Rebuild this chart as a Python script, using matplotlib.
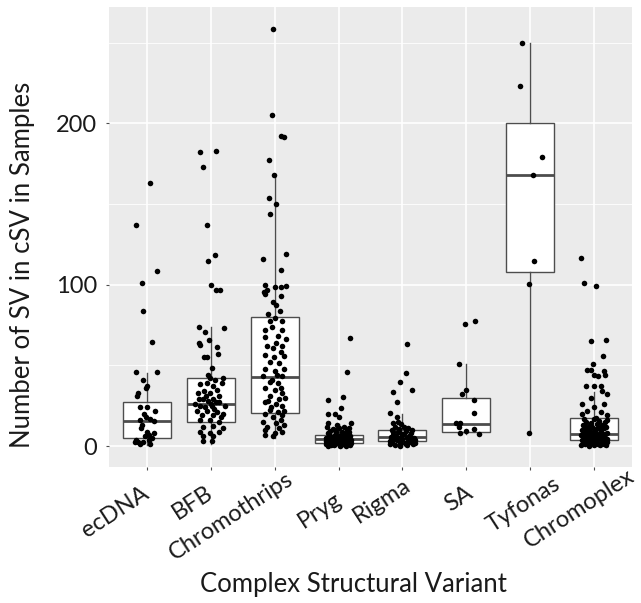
"""
Boxplot with jittered points: number of SVs per complex structural variant type.
"""

import matplotlib
matplotlib.use("Agg")
import matplotlib.pyplot as plt
import numpy as np

categories = ["ecDNA", "BFB", "Chromothrips", "Pryg", "Rigma", "SA", "Tyfonas", "Chromoplex"]

# box statistics
box_q1 = [5, 15, 20.6, 2, 3.3, 8.7, 108, 4]
box_med = [15.5, 26, 43, 4.3, 5.8, 13.6, 168, 7.4]
box_q3 = [27, 42, 80, 6.8, 10, 30, 200, 17.5]
whisker_lo = [0.5, 1, 5, 0, 0, 7.4, 8, 0]
whisker_hi = [45, 74, 167, 13.5, 20, 50.6, 250, 33.6]

# jittered points: (horizontal jitter, value)
ecdna_pts = [(-0.17, 136.8), (0.05, 162.8), (0.15, 108.8), (-0.09, 101), (-0.07, 83.6),
             (0.07, 64.8), (-0.18, 46.2), (0.16, 45.6), (-0.06, 40.9), (0.0, 37.2),
             (-0.02, 35.8), (-0.15, 32.6), (-0.16, 31.3), (-0.12, 24), (0.0, 24.3),
             (-0.05, 20), (-0.02, 18), (0.05, 17), (-0.12, 16), (0.1, 15.5),
             (-0.1, 11), (0.0, 9), (0.02, 7), (-0.04, 6), (-0.15, 2.7), (-0.12, 1.3),
             (0.02, 3.6), (0.07, 5), (-0.06, 2.5), (-0.19, 2.5), (0.1, 8), (-0.08, 13),
             (0.12, 22), (-0.17, 4), (0.04, 1)]

bfb_pts = [(-0.17, 182), (0.08, 182.8), (-0.12, 173.2), (-0.06, 136.8), (0.06, 118.5),
           (-0.04, 114.7), (0.0, 100), (0.08, 96.8), (0.14, 96.6),
           (-0.19, 73.9), (-0.10, 70.4), (0.20, 72.9), (-0.03, 65.6), (-0.19, 63.6),
           (-0.17, 62.5), (0.09, 61.1), (0.11, 57), (-0.11, 54.9), (-0.06, 54.9), (0.02, 48.5),
           (-0.02, 42), (0.06, 41), (0.19, 42), (-0.07, 39), (-0.17, 38.5), (0.03, 37),
           (-0.11, 34), (-0.01, 33), (0.13, 31), (-0.19, 29), (-0.12, 29), (-0.05, 28),
           (0.03, 29), (0.13, 27), (-0.25, 26), (-0.17, 25), (0.01, 25), (0.22, 25),
           (-0.07, 22), (0.09, 21), (-0.22, 22), (-0.14, 19), (0.03, 19), (0.19, 20),
           (-0.17, 16), (-0.02, 16), (0.13, 15), (-0.13, 12), (0.03, 12.5), (0.19, 11),
           (-0.17, 9), (-0.02, 8), (0.13, 9), (-0.13, 6), (0.03, 6), (-0.13, 3), (0.01, 3),
           (0.1, 35), (-0.08, 31), (0.05, 23), (-0.2, 33), (0.15, 18), (-0.05, 44),
           (0.0, 26), (0.08, 27.5), (-0.1, 24), (0.17, 39)]

chromothrips_pts = [(-0.03, 258.4), (-0.04, 205), (0.09, 192.1), (0.14, 191.5), (-0.09, 177),
                    (-0.02, 168), (-0.09, 154), (0.02, 150), (-0.08, 144), (-0.19, 115.8),
                    (0.17, 119.3), (0.10, 109.4), (0.01, 98.3), (0.10, 98.3), (0.17, 98.9),
                    (-0.15, 94.5), (-0.17, 95.3), (0.10, 92.9), (-0.15, 100), (-0.12, 96.6),
                    (-0.03, 89.4), (0.02, 87.3), (-0.11, 81.7), (0.0, 79.6), (-0.08, 77.5),
                    (0.12, 77.5), (-0.16, 71.8), (0.12, 71.8), (-0.15, 67.6), (0.18, 66.6),
                    (0.02, 63.6), (-0.03, 60.5), (0.12, 62), (0.10, 58), (-0.16, 56.3),
                    (0.15, 56), (-0.08, 52), (0.07, 51.2), (-0.15, 47.7), (0.0, 46.5),
                    (-0.19, 43.6), (0.12, 43.3), (-0.08, 40), (0.05, 39), (-0.16, 36),
                    (0.0, 35), (0.12, 33), (-0.08, 31), (0.07, 29), (-0.16, 27), (0.02, 26),
                    (0.12, 25), (-0.08, 22.6), (0.05, 21), (-0.16, 20), (-0.03, 18),
                    (0.12, 19), (-0.19, 15), (0.02, 14), (0.15, 13), (-0.15, 10), (0.0, 8),
                    (0.12, 9), (-0.16, 7), (-0.03, 6.5), (0.08, 84), (-0.05, 74), (0.15, 48),
                    (-0.12, 62), (0.05, 68), (-0.02, 55), (0.09, 36), (-0.1, 28), (0.16, 30),
                    (-0.06, 24), (0.1, 16), (-0.12, 12), (0.06, 11), (0.14, 22), (-0.04, 41),
                    (0.03, 44)]

pryg_pts = [(0.18, 66.7), (0.13, 46), (0.07, 30.5), (-0.17, 28.5), (0.04, 23.7), (-0.16, 19.6),
            (-0.06, 19.6), (0.0, 18.1), (0.19, 14), (-0.16, 14),
            (-0.19, 1), (-0.15, 2), (-0.12, 0.5), (-0.08, 3), (-0.05, 1.5), (0.0, 2.5),
            (0.04, 0.8), (0.08, 3.5), (0.12, 1.2), (0.16, 2.2), (0.19, 4),
            (-0.18, 5), (-0.14, 6), (-0.1, 4.5), (-0.06, 7), (-0.02, 5.5), (0.02, 6.5),
            (0.06, 4.2), (0.1, 7.5), (0.14, 5.2), (0.18, 6.2),
            (-0.17, 8), (-0.13, 9.5), (-0.09, 10.5), (-0.04, 8.5), (0.01, 11), (0.05, 9),
            (0.09, 12), (0.13, 10), (0.17, 8.8),
            (-0.2, 3.2), (-0.16, 0.2), (-0.11, 1.8), (-0.07, 0.4), (-0.03, 2.8), (0.03, 1),
            (0.07, 2), (0.11, 0.3), (0.15, 3), (0.2, 1.6),
            (-0.19, 4.8), (-0.12, 3.8), (-0.01, 4), (0.05, 3.2), (0.13, 4.6), (-0.08, 5.8),
            (0.0, 6), (0.09, 5.6), (0.17, 7), (-0.15, 7.2),
            (-0.05, 9.8), (0.07, 7.8), (0.16, 11), (-0.18, 11.5), (-0.02, 13), (0.1, 1.4),
            (-0.1, 2.4), (0.02, 0.1), (0.18, 0.8), (-0.13, 1.1)]

rigma_pts = [(0.07, 63), (0.05, 45), (-0.04, 39.8), (-0.14, 33.2), (0.15, 34.7), (-0.08, 27.2),
             (-0.2, 20.2), (-0.09, 18), (-0.07, 15), (-0.15, 14), (-0.02, 13.5),
             (-0.2, 1), (-0.16, 2.5), (-0.12, 0.5), (-0.08, 3.5), (-0.04, 1.8), (0.0, 4.5),
             (0.04, 2.2), (0.08, 0.8), (0.12, 3), (0.16, 1.5), (0.2, 4),
             (-0.18, 5.5), (-0.14, 7), (-0.1, 6), (-0.06, 8.5), (-0.02, 5.8), (0.02, 7.5),
             (0.06, 9.5), (0.1, 6.5), (0.14, 8), (0.18, 5),
             (-0.17, 10), (-0.11, 11.5), (-0.05, 10.5), (0.03, 12), (0.09, 11), (0.15, 10.2),
             (-0.19, 3.2), (-0.13, 4.2), (-0.03, 0.3), (0.05, 1.2), (0.11, 2.6), (0.19, 2),
             (-0.07, 9), (0.13, 4.8), (0.0, 7.2), (-0.15, 8.8), (0.07, 5.2)]

sa_pts = [(-0.02, 75.4), (0.14, 77.4), (-0.12, 50.8), (0.0, 34.7), (-0.06, 32.2), (0.12, 28.3),
          (0.12, 20.4), (-0.16, 14.5), (-0.09, 14), (-0.12, 12), (0.0, 9.6), (0.13, 10.3),
          (-0.1, 7.8), (0.2, 7.4)]

tyfonas_pts = [(-0.12, 250), (-0.16, 223), (0.19, 179), (0.05, 168), (0.06, 114.6),
               (-0.02, 100.3), (-0.02, 8)]

chromoplex_pts = [(-0.2, 116.4), (-0.16, 101), (0.03, 99), (-0.04, 65), (0.19, 65.8), (0.15, 56),
                  (-0.01, 51), (-0.1, 47), (-0.05, 47), (0.16, 46.5), (0.0, 44), (0.06, 43.5),
                  (0.18, 44), (-0.12, 37), (0.0, 37), (0.11, 37), (0.13, 34), (0.21, 32),
                  (-0.05, 30), (-0.18, 26), (0.16, 26), (0.0, 24), (-0.1, 22), (0.11, 21),
                  (-0.18, 20), (0.21, 19),
                  (-0.2, 0.5), (-0.17, 2), (-0.14, 1), (-0.11, 2.8), (-0.08, 0.3), (-0.05, 1.6),
                  (-0.02, 2.4), (0.01, 0.8), (0.04, 2.9), (0.07, 1.2), (0.1, 0.4), (0.13, 2.2),
                  (0.16, 1.5), (0.19, 0.6), (0.21, 2.6),
                  (-0.19, 4), (-0.16, 5.5), (-0.13, 3.5), (-0.1, 4.8), (-0.07, 5.9), (-0.04, 3.2),
                  (-0.01, 4.4), (0.02, 5.2), (0.05, 3.8), (0.08, 5.7), (0.11, 4.1), (0.14, 3.3),
                  (0.17, 5), (0.2, 4.6), (-0.06, 4.2),
                  (-0.2, 7), (-0.15, 8.5), (-0.12, 6.3), (-0.09, 7.8), (-0.06, 8.9), (-0.03, 6.6),
                  (0.0, 7.4), (0.03, 8.2), (0.06, 6.1), (0.09, 7.1), (0.12, 8.7), (0.15, 6.8),
                  (0.18, 7.6), (0.21, 8.1),
                  (-0.18, 10), (-0.14, 11.5), (-0.11, 9.3), (-0.07, 10.8), (-0.03, 11.8),
                  (0.0, 9.6), (0.04, 10.4), (0.08, 11.2), (0.12, 9.8), (0.16, 10.9), (0.19, 11.6),
                  (-0.17, 13), (-0.12, 15), (-0.08, 12.5), (-0.04, 14.2), (0.0, 16.5),
                  (0.05, 13.4), (0.09, 15.8), (0.13, 12.8), (0.17, 14.6), (-0.15, 17),
                  (0.03, 17.5), (0.2, 16)]

points = [ecdna_pts, bfb_pts, chromothrips_pts, pryg_pts, rigma_pts, sa_pts, tyfonas_pts,
          chromoplex_pts]

# the category labels in the source look hand-placed, so each gets its own nudge (pixels)
label_dx = [-6, -6, 11, -5, 1, -1, 23, 33]
label_dy = [16, 15, 1, 22, 8, 15, 6, -2]


def main():
    plt.rcParams["font.family"] = ["Lato", "DejaVu Sans"]

    fig = plt.figure(figsize=(6.41, 6.03), dpi=100)
    ax = fig.add_axes([0.170, 0.2255, 0.816, 0.7625])
    ax.set_facecolor("#EBEBEB")

    positions = np.arange(1, len(categories) + 1)

    # ggplot-like grid
    for y in [50, 150, 250]:
        ax.axhline(y, color="white", lw=0.6, zorder=0)
    for y in [0, 100, 200]:
        ax.axhline(y, color="white", lw=1.2, zorder=0)
    for x in positions:
        ax.axvline(x, color="white", lw=1.2, zorder=0)

    stats = []
    for i, name in enumerate(categories):
        stats.append({
            "label": name,
            "q1": box_q1[i], "med": box_med[i], "q3": box_q3[i],
            "whislo": whisker_lo[i], "whishi": whisker_hi[i], "fliers": [],
        })
    ax.bxp(stats, positions=positions, widths=0.75, showfliers=False, patch_artist=True,
           boxprops=dict(facecolor="white", edgecolor="#4d4d4d", linewidth=1.0),
           medianprops=dict(color="#4d4d4d", linewidth=2.0),
           whiskerprops=dict(color="#4d4d4d", linewidth=1.0),
           capprops=dict(linewidth=0), zorder=2)

    for pos, pts in zip(positions, points):
        dx = np.array([p[0] for p in pts])
        vals = np.array([p[1] for p in pts])
        ax.scatter(pos + dx, vals, s=16, color="black", linewidths=0, zorder=3)

    ax.set_xlim(0.4, 8.6)
    ax.set_ylim(-13, 272)
    ax.set_yticks([0, 100, 200])
    ax.set_xticks(positions)
    ax.set_xticklabels([])
    ax.tick_params(axis="both", length=2.5, width=0.8, color="#4d4d4d",
                   labelsize=17, labelcolor="#1a1a1a", pad=6)
    for s in ax.spines.values():
        s.set_visible(False)

    for pos, name, dx, dy in zip(positions, categories, label_dx, label_dy):
        ax.annotate(name, xy=(pos, 0), xycoords=("data", "axes fraction"),
                    xytext=(dx, -dy), textcoords="offset pixels",
                    rotation=33, rotation_mode="anchor", ha="right", va="top",
                    fontsize=17, color="#1a1a1a", annotation_clip=False)

    fig.text(353 / 641, 1 - 592 / 603, "Complex Structural Variant", fontsize=18.5,
             ha="center", va="baseline", color="#1a1a1a")
    fig.text(23 / 641, 1 - 264.5 / 603, "Number of SV in cSV in Samples", fontsize=18.5,
             ha="center", va="center", rotation=90, color="#1a1a1a")

    fig.savefig("out.png", dpi=100)
    plt.close(fig)


if __name__ == "__main__":
    main()
